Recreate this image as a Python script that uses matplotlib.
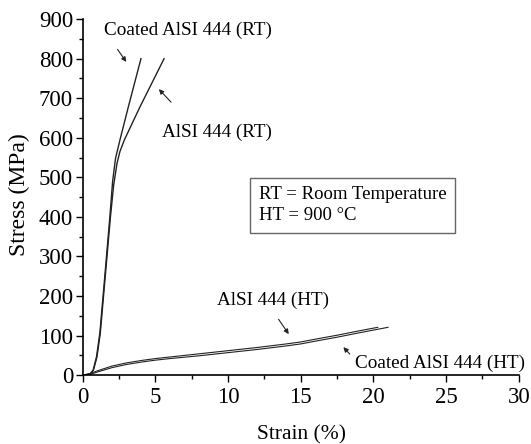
import matplotlib
matplotlib.use("Agg")
import matplotlib.pyplot as plt
from matplotlib.ticker import MultipleLocator

plt.rcParams["font.family"] = ["Liberation Serif", "DejaVu Serif"]

# tensile curves
coated_rt_strain = [0, 0.5, 0.71, 0.94, 1.17, 1.47, 1.86, 2.05, 2.25, 2.55, 3.13, 4.0]
coated_rt_stress = [0, 3, 13, 46, 106, 232, 400, 490, 548, 594, 678, 800]

aisi_rt_strain = [0, 0.5, 0.73, 0.97, 1.2, 1.5, 1.9, 2.12, 2.35, 2.55, 2.85, 3.93, 5.59]
aisi_rt_stress = [0, 3, 13, 46, 106, 232, 400, 480, 535, 565, 594, 678, 800]

aisi_ht_strain = [0, 0.5, 1, 2, 3, 4, 5, 6, 8, 10, 12, 14, 15, 16, 17.5, 19, 20.3]
aisi_ht_stress = [0, 4, 11, 23, 31, 37, 42, 46, 54, 62, 70, 79, 84, 91, 101, 112, 121]

coated_ht_strain = [0, 0.5, 1, 2, 3, 4, 5, 6, 8, 10, 12, 14, 15, 16, 17.5, 19, 21]
coated_ht_stress = [0, 2, 8, 19, 27, 33, 38, 42, 49, 57, 65, 74, 79, 86, 96, 107, 121]

fig = plt.figure(figsize=(5.31, 4.44), dpi=100)
ax = fig.add_axes([0.156, 0.155, 0.821, 0.802])

line_kw = dict(color="#222222", linewidth=1.0)
ax.plot(coated_rt_strain, coated_rt_stress, **line_kw)
ax.plot(aisi_rt_strain, aisi_rt_stress, **line_kw)
ax.plot(aisi_ht_strain, aisi_ht_stress, color="#222222", linewidth=0.8)
ax.plot(coated_ht_strain, coated_ht_stress, color="#222222", linewidth=0.8)

ax.set_xlim(0, 30)
ax.set_ylim(0, 900)
ax.xaxis.set_major_locator(MultipleLocator(5))
ax.xaxis.set_minor_locator(MultipleLocator(2.5))
ax.yaxis.set_major_locator(MultipleLocator(100))
ax.yaxis.set_minor_locator(MultipleLocator(50))
ax.tick_params(which="major", direction="out", length=5, width=1.0, labelsize=16.5)
ax.tick_params(which="minor", direction="out", length=3, width=1.0)
ax.tick_params(axis="y", pad=2)
for side in ("top", "right"):
    ax.spines[side].set_visible(False)
for side in ("left", "bottom"):
    ax.spines[side].set_linewidth(1.2)

fig.text(0.568, 0.0, "Strain (%)", fontsize=15.5, ha="center", va="bottom")
fig.text(0.037, 0.561, "Stress (MPa)", fontsize=17, ha="center", va="center",
         rotation=90)

arrow = dict(arrowstyle="-|>", color="#222222", lw=0.8, mutation_scale=7)
txt = dict(fontsize=13.8, ha="center", va="center")
ax.annotate("", xy=(3.1, 786), xytext=(2.28, 829), arrowprops=arrow)
ax.text(7.24, 872, "Coated AlSI 444 (RT)", **txt)
ax.annotate("", xy=(5.1, 728), xytext=(6.2, 685), arrowprops=arrow)
ax.text(9.24, 614, "AlSI 444 (RT)", **txt)
ax.annotate("", xy=(14.28, 98), xytext=(13.36, 147), arrowprops=arrow)
ax.text(13.1, 190, "AlSI 444 (HT)", **txt)
ax.annotate("", xy=(17.8, 76), xytext=(18.5, 48), arrowprops=arrow)
ax.text(24.6, 31, "Coated AlSI 444 (HT)", **txt)

ax.text(12.1, 429, "RT = Room Temperature\nHT = 900 \u00b0C", fontsize=13.5,
        ha="left", va="center", linespacing=1.3,
        bbox=dict(boxstyle="square,pad=0.45", facecolor="white",
                  edgecolor="#666666", linewidth=1.0))

fig.savefig("out.png", dpi=100)
